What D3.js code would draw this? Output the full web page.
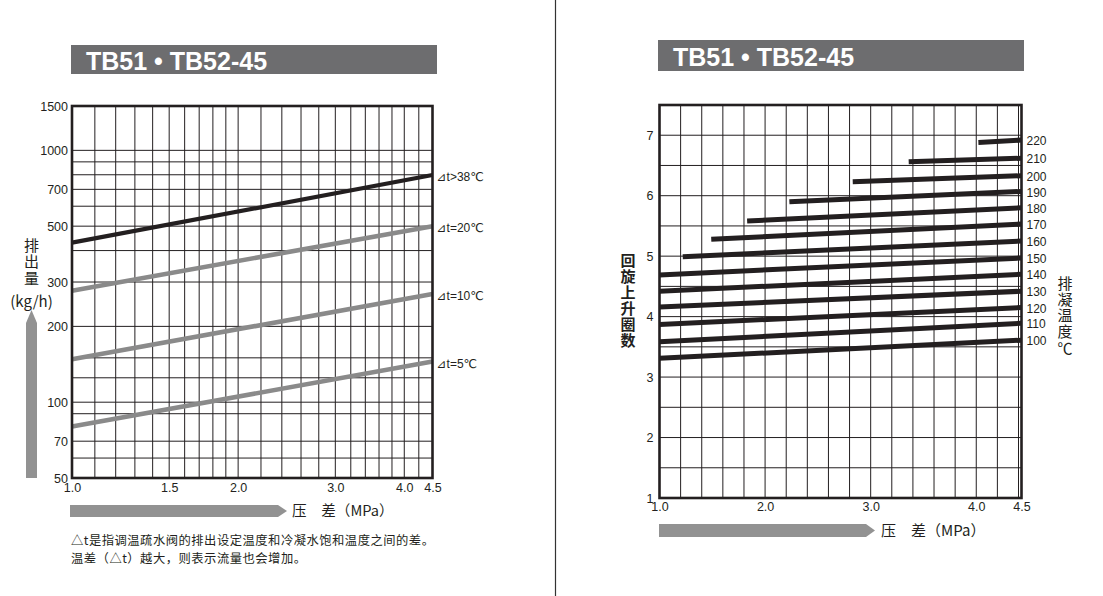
<!DOCTYPE html>
<html><head><meta charset="utf-8">
<script src="https://cdn.jsdelivr.net/npm/d3@7"></script>
<style>body{margin:0;background:#fff;} svg{display:block} .vt{writing-mode:vertical-rl;}</style>
</head><body><svg id="c" width="1103" height="596"></svg>
<script>
// ---------- data ----------
const titleText = "TB51 • TB52-45";

// left chart: discharge capacity (kg/h) vs pressure difference (MPa)
const flowSeries = ["⊿t>38℃", "⊿t=20℃", "⊿t=10℃", "⊿t=5℃"];
const flowPressure = [1.0, 4.5];
const flowAt1 = [430, 277, 148, 80];
const flowAt45 = [798, 500, 269, 145];
const flowColors = ["#231f20", "#8a8a8a", "#8a8a8a", "#8a8a8a"];
const flowXTicks = [1.0, 1.5, 2.0, 3.0, 4.0, 4.5];
const flowXGrid = [1.1, 1.2, 1.3, 1.4, 1.5, 1.6, 1.7, 1.8, 1.9, 2.0, 2.2, 2.4, 2.6, 2.8, 3.0, 3.2, 3.4, 3.6, 3.8, 4.0, 4.25];
const flowYTicks = [50, 70, 100, 200, 300, 500, 700, 1000, 1500];
const flowYGrid = [60, 70, 90, 100, 125, 150, 200, 300, 400, 500, 600, 700, 800, 900, 1000];

// right chart: adjusting turns vs pressure difference, per condensate temperature
const condTemps = [100, 110, 120, 130, 140, 150, 160, 170, 180, 190, 200, 210, 220];
const turnStartP = [1.0, 1.0, 1.0, 1.0, 1.0, 1.0, 1.22, 1.49, 1.83, 2.23, 2.83, 3.36, 4.02];
const turnStart = [3.31, 3.585, 3.87, 4.16, 4.42, 4.69, 4.99, 5.28, 5.58, 5.90, 6.23, 6.56, 6.88];
const turnEndP = 4.5;
const turnEnd = [3.61, 3.89, 4.15, 4.42, 4.70, 4.97, 5.25, 5.53, 5.80, 6.07, 6.33, 6.62, 6.92];
const turnXTicks = [1.0, 2.0, 3.0, 4.0, 4.5];
const turnXGrid = d3.range(1.2, 4.41, 0.2);
const turnYTicks = [1, 2, 3, 4, 5, 6, 7];
const turnYGrid = d3.range(1.5, 7.01, 0.5);

const noteLines = ["△t是指调温疏水阀的排出设定温度和冷凝水饱和温度之间的差。", "温差（△t）越大，则表示流量也会增加。"];

// ---------- drawing ----------
const svg = d3.select("#c");
const LAT = "'Liberation Sans', Arial, Helvetica, sans-serif";
const CJK = "'Noto Sans CJK SC', 'Noto Sans', sans-serif";
const INK = "#231f20";

// divider
svg.append("line").attr("x1", 555.5).attr("x2", 555.5).attr("y1", 0).attr("y2", 596)
  .attr("stroke", "#333").attr("stroke-width", 1.2);

function titleBar(x, y, w, h, tx, ty) {
  svg.append("rect").attr("x", x).attr("y", y).attr("width", w).attr("height", h).attr("fill", "#6d6d6f");
  svg.append("text").attr("x", tx).attr("y", ty).text(titleText)
    .attr("fill", "#fff").attr("font-family", LAT).attr("font-weight", "bold").attr("font-size", 25);
}
titleBar(71, 45, 366, 29, 86, 70);
titleBar(658, 40, 366, 31, 673, 66);

// ===== left chart =====
const L = {x0: 72, x1: 432.5, y0: 106, y1: 478};
const lx = d3.scaleLog().domain([1, 4.5]).range([L.x0, L.x1]);
const ly = d3.scaleLog().domain([50, 1500]).range([L.y1, L.y0]);
const gl = svg.append("g");

gl.selectAll(".vg").data(flowXGrid).join("line")
  .attr("x1", d => lx(d)).attr("x2", d => lx(d)).attr("y1", L.y0).attr("y2", L.y1)
  .attr("stroke", INK).attr("stroke-width", 1);
gl.selectAll(".hg").data(flowYGrid).join("line")
  .attr("y1", d => ly(d)).attr("y2", d => ly(d)).attr("x1", L.x0).attr("x2", L.x1)
  .attr("stroke", INK).attr("stroke-width", 1);

const flowData = flowSeries.map((s, i) => ({name: s, color: flowColors[i],
  pts: [[flowPressure[0], flowAt1[i]], [flowPressure[1], flowAt45[i]]]}));
const lLine = d3.line().x(d => lx(d[0])).y(d => ly(d[1]));
gl.selectAll(".fl").data(flowData.slice().reverse()).join("path")
  .attr("d", d => lLine(d.pts)).attr("fill", "none")
  .attr("stroke", d => d.color).attr("stroke-width", d => d.color === INK ? 4.2 : 4.6);

gl.append("rect").attr("x", L.x0).attr("y", L.y0).attr("width", L.x1 - L.x0).attr("height", L.y1 - L.y0)
  .attr("fill", "none").attr("stroke", INK).attr("stroke-width", 2.6);

gl.selectAll(".fll").data(flowData).join("text")
  .attr("x", L.x1 + 4).attr("y", d => ly(d.pts[1][1]) + 2).attr("dy", "0.35em")
  .attr("font-family", "'Liberation Sans', 'DejaVu Sans', 'Noto Sans CJK SC', sans-serif").attr("font-size", 12).attr("fill", INK)
  .text(d => d.name);

const lyAxis = gl.append("g").attr("transform", `translate(${L.x0},0)`)
  .call(d3.axisLeft(ly).tickValues(flowYTicks).tickSize(0).tickPadding(4).tickFormat(d3.format("d")));
const lxAxis = gl.append("g").attr("transform", `translate(0,${L.y1})`)
  .call(d3.axisBottom(lx).tickValues(flowXTicks).tickSize(0).tickPadding(5).tickFormat(d3.format(".1f")));
[lyAxis, lxAxis].forEach(a => {
  a.select(".domain").remove();
  a.selectAll("text").attr("font-family", LAT).attr("font-size", 12.5).attr("fill", INK);
});

// vertical labels (single text elements, vertical writing mode)
function vText(str, x, yTop, opts) {
  return svg.append("text").attr("class", "vt").attr("x", x).attr("y", yTop)
    .attr("font-family", CJK).attr("font-size", 15).attr("letter-spacing", opts.ls)
    .attr("font-weight", opts.bold ? "bold" : "normal").attr("fill", INK).text(str);
}
vText("排出量", 31.5, 237.5, {ls: 1.7});
svg.append("text").attr("x", 31.5).attr("y", 307).attr("text-anchor", "middle")
  .attr("font-family", CJK).attr("font-size", 15).attr("fill", INK).text("(kg/h)");
svg.append("path").attr("d", "M26,478 L26,323 L31.5,310 L37,323 L37,478 Z").attr("fill", "#929292");

// left x label
svg.append("path").attr("d", "M70,505 L278,505 L287,511 L278,517 L70,517 Z").attr("fill", "#929292");
svg.append("text").attr("x", 292).attr("y", 516).attr("font-family", CJK).attr("font-size", 14.6)
  .attr("fill", INK).text("压　差（MPa）");

// footnote lines
noteLines.forEach((t, i) => {
  svg.append("text").attr("x", 71).attr("y", 545 + i * 17.9).attr("font-family", CJK)
    .attr("font-size", 12.3).attr("letter-spacing", 0.5).attr("fill", INK).text(t);
});

// ===== right chart =====
const R = {x0: 659.5, x1: 1021.5, y0: 105, y1: 498};
const rx = d3.scaleLinear().domain([1, 4.4, 4.5]).range([R.x0, 1018.5, R.x1]);
const ry = d3.scaleLinear().domain([1, 7.5]).range([R.y1, R.y0]);
const gr = svg.append("g");

gr.selectAll(".vg").data(turnXGrid).join("line")
  .attr("x1", d => rx(d)).attr("x2", d => rx(d)).attr("y1", R.y0).attr("y2", R.y1)
  .attr("stroke", INK).attr("stroke-width", 1);
gr.selectAll(".hg").data(turnYGrid).join("line")
  .attr("y1", d => ry(d)).attr("y2", d => ry(d)).attr("x1", R.x0).attr("x2", R.x1)
  .attr("stroke", INK).attr("stroke-width", 1);

const turnData = condTemps.map((t, i) => ({t, pts: [[turnStartP[i], turnStart[i]], [turnEndP, turnEnd[i]]]}));
const rLine = d3.line().x(d => rx(d[0])).y(d => ry(d[1]));
gr.selectAll(".tl").data(turnData).join("path")
  .attr("d", d => rLine(d.pts)).attr("fill", "none").attr("stroke", INK).attr("stroke-width", 5);

gr.append("rect").attr("x", R.x0).attr("y", R.y0).attr("width", R.x1 - R.x0).attr("height", R.y1 - R.y0)
  .attr("fill", "none").attr("stroke", INK).attr("stroke-width", 2.6);

gr.selectAll(".tll").data(turnData).join("text")
  .attr("x", 1026.5).attr("y", d => ry(d.pts[1][1]) + 1).attr("dy", "0.35em")
  .attr("font-family", LAT).attr("font-size", 12).attr("fill", INK).text(d => d.t);

const ryAxis = gr.append("g").attr("transform", `translate(${R.x0},0)`)
  .call(d3.axisLeft(ry).tickValues(turnYTicks).tickSize(0).tickPadding(6).tickFormat(d3.format("d")));
const rxAxis = gr.append("g").attr("transform", `translate(0,${R.y1})`)
  .call(d3.axisBottom(rx).tickValues(turnXTicks).tickSize(0).tickPadding(4).tickFormat(d3.format(".1f")));
[ryAxis, rxAxis].forEach(a => {
  a.select(".domain").remove();
  a.selectAll("text").attr("font-family", LAT).attr("font-size", 12.5).attr("fill", INK);
});

vText("回旋上升圈数", 628, 252.5, {ls: 1.1, bold: true});
vText("排凝温度℃", 1065, 276, {ls: 1.1});

svg.append("path").attr("d", "M659,524 L866,524 L875,530.5 L866,537 L659,537 Z").attr("fill", "#929292");
svg.append("text").attr("x", 881).attr("y", 536).attr("font-family", CJK).attr("font-size", 15)
  .attr("fill", INK).text("压　差（MPa）");
</script></body></html>
